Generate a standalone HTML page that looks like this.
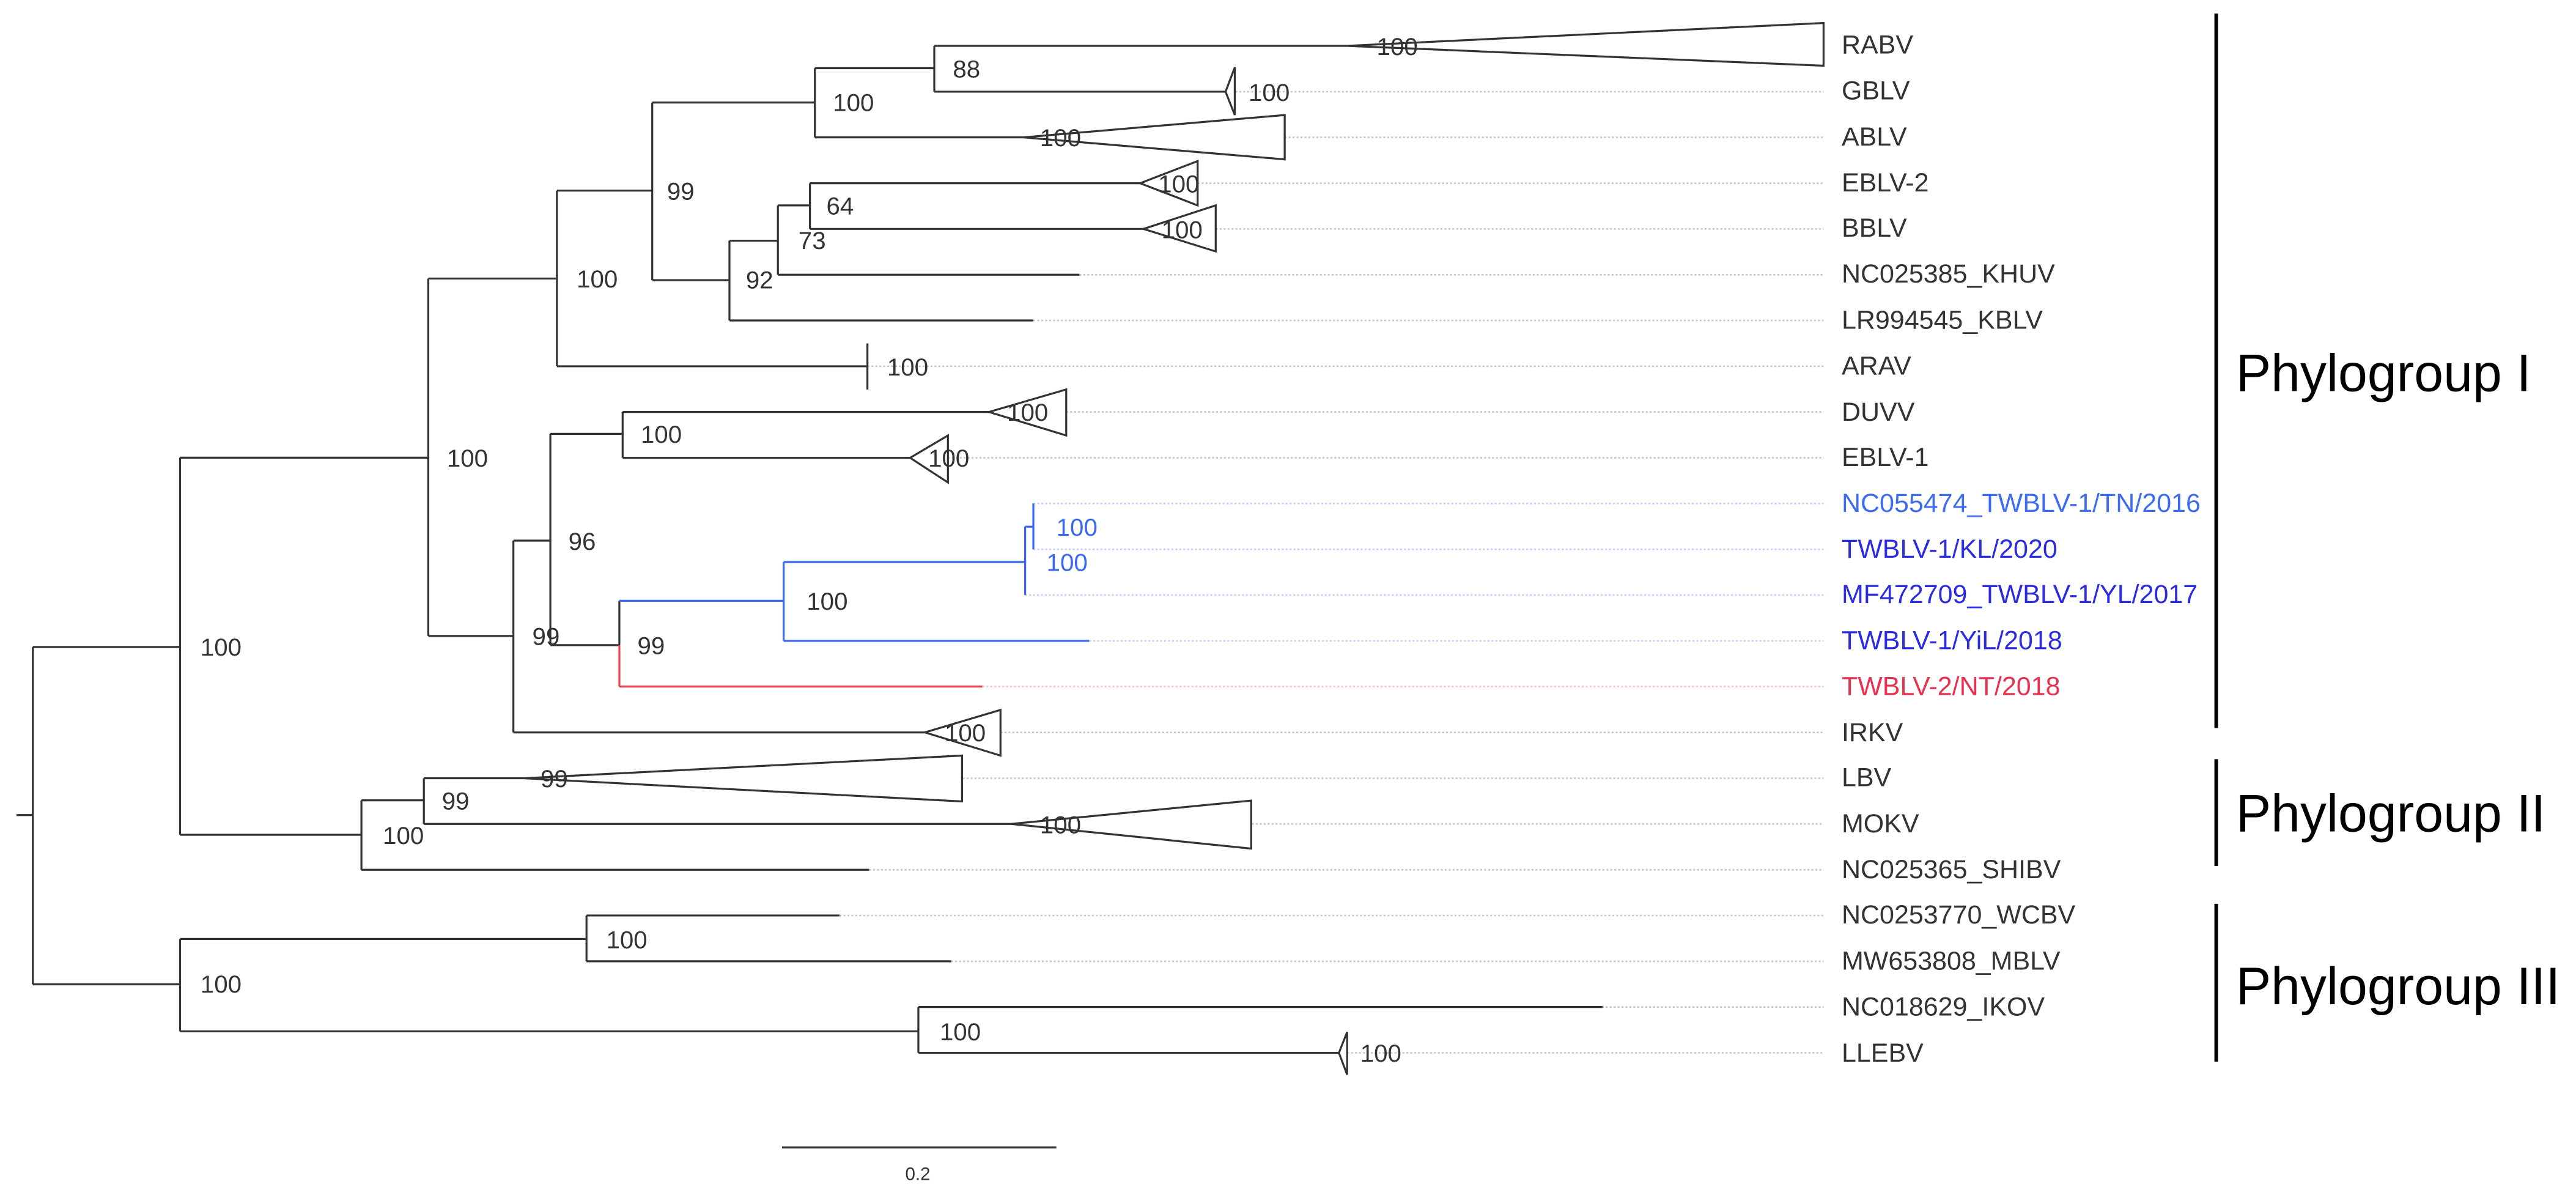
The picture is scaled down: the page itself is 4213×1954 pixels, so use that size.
<!DOCTYPE html>
<html><head><meta charset="utf-8"><style>
html,body{margin:0;padding:0;background:#fff;}
svg{display:block;}
text{font-family:"Liberation Sans",Arial,sans-serif;}
</style></head><body>
<svg width="4213" height="1954" viewBox="0 0 1568 727.2" preserveAspectRatio="none" xmlns="http://www.w3.org/2000/svg">
<g stroke="#c8c8c8" stroke-width="1" stroke-dasharray="1.2,1.2" fill="none">
<line x1="752" y1="55.8" x2="1110" y2="55.8"/>
<line x1="782" y1="83.6" x2="1110" y2="83.6"/>
<line x1="729" y1="111.5" x2="1110" y2="111.5"/>
<line x1="740" y1="139.3" x2="1110" y2="139.3"/>
<line x1="657" y1="167.2" x2="1110" y2="167.2"/>
<line x1="629" y1="195" x2="1110" y2="195"/>
<line x1="528" y1="222.9" x2="1110" y2="222.9"/>
<line x1="649" y1="250.7" x2="1110" y2="250.7"/>
<line x1="577" y1="278.6" x2="1110" y2="278.6"/>
<line x1="609" y1="445.7" x2="1110" y2="445.7"/>
<line x1="586" y1="473.6" x2="1110" y2="473.6"/>
<line x1="762" y1="501.4" x2="1110" y2="501.4"/>
<line x1="529" y1="529.3" x2="1110" y2="529.3"/>
<line x1="511" y1="557.1" x2="1110" y2="557.1"/>
<line x1="579" y1="585" x2="1110" y2="585"/>
<line x1="975" y1="612.8" x2="1110" y2="612.8"/>
<line x1="820" y1="640.7" x2="1110" y2="640.7"/>
</g>
<g stroke="#c8d0f8" stroke-width="1" stroke-dasharray="1.2,1.2">
<line x1="629" y1="306.4" x2="1110" y2="306.4"/>
<line x1="629" y1="334.3" x2="1110" y2="334.3"/>
<line x1="624" y1="362.1" x2="1110" y2="362.1"/>
<line x1="663" y1="390" x2="1110" y2="390"/>
</g>
<g stroke="#f8c8d0" stroke-width="1" stroke-dasharray="1.2,1.2">
<line x1="598" y1="417.8" x2="1110" y2="417.8"/>
</g>
<g stroke="#333" stroke-width="1.2" fill="none">
<line x1="10" y1="496" x2="20" y2="496"/>
<line x1="20" y1="393.7" x2="20" y2="599"/>
<line x1="20" y1="393.7" x2="109.6" y2="393.7"/>
<line x1="20" y1="599" x2="109.6" y2="599"/>
<line x1="109.6" y1="278.5" x2="109.6" y2="508"/>
<line x1="109.6" y1="278.5" x2="260.7" y2="278.5"/>
<line x1="109.6" y1="508" x2="220" y2="508"/>
<line x1="260.7" y1="169.5" x2="260.7" y2="387"/>
<line x1="260.7" y1="169.5" x2="339" y2="169.5"/>
<line x1="260.7" y1="387" x2="312.5" y2="387"/>
<line x1="339" y1="116" x2="339" y2="222.9"/>
<line x1="339" y1="116" x2="397" y2="116"/>
<line x1="339" y1="222.9" x2="528" y2="222.9"/>
<line x1="528" y1="209" x2="528" y2="237"/>
<line x1="397" y1="62.4" x2="397" y2="170.5"/>
<line x1="397" y1="62.4" x2="496" y2="62.4"/>
<line x1="397" y1="170.5" x2="444" y2="170.5"/>
<line x1="496" y1="41.5" x2="496" y2="83.6"/>
<line x1="496" y1="41.5" x2="568.7" y2="41.5"/>
<line x1="496" y1="83.6" x2="623" y2="83.6"/>
<line x1="568.7" y1="27.9" x2="568.7" y2="55.8"/>
<line x1="568.7" y1="27.9" x2="820" y2="27.9"/>
<line x1="568.7" y1="55.8" x2="746" y2="55.8"/>
<line x1="444" y1="146.5" x2="444" y2="195"/>
<line x1="444" y1="146.5" x2="473.5" y2="146.5"/>
<line x1="444" y1="195" x2="629" y2="195"/>
<line x1="473.5" y1="125" x2="473.5" y2="167.2"/>
<line x1="473.5" y1="125" x2="493" y2="125"/>
<line x1="473.5" y1="167.2" x2="657" y2="167.2"/>
<line x1="493" y1="111.5" x2="493" y2="139.3"/>
<line x1="493" y1="111.5" x2="694" y2="111.5"/>
<line x1="493" y1="139.3" x2="696" y2="139.3"/>
<line x1="312.5" y1="329" x2="312.5" y2="445.7"/>
<line x1="312.5" y1="329" x2="335" y2="329"/>
<line x1="312.5" y1="445.7" x2="563" y2="445.7"/>
<line x1="335" y1="264" x2="335" y2="392.6"/>
<line x1="335" y1="264" x2="379" y2="264"/>
<line x1="335" y1="392.6" x2="377" y2="392.6"/>
<line x1="379" y1="250.7" x2="379" y2="278.6"/>
<line x1="379" y1="250.7" x2="602" y2="250.7"/>
<line x1="379" y1="278.6" x2="554" y2="278.6"/>
<line x1="377" y1="365.6" x2="377" y2="392.6"/>
<line x1="220" y1="487" x2="220" y2="529.3"/>
<line x1="220" y1="487" x2="258" y2="487"/>
<line x1="220" y1="529.3" x2="529" y2="529.3"/>
<line x1="258" y1="473.6" x2="258" y2="501.4"/>
<line x1="258" y1="473.6" x2="319" y2="473.6"/>
<line x1="258" y1="501.4" x2="615.5" y2="501.4"/>
<line x1="109.6" y1="571.4" x2="109.6" y2="627.6"/>
<line x1="109.6" y1="571.4" x2="357" y2="571.4"/>
<line x1="109.6" y1="627.6" x2="559" y2="627.6"/>
<line x1="357" y1="557.1" x2="357" y2="585"/>
<line x1="357" y1="557.1" x2="511" y2="557.1"/>
<line x1="357" y1="585" x2="579" y2="585"/>
<line x1="559" y1="612.8" x2="559" y2="640.7"/>
<line x1="559" y1="612.8" x2="975.5" y2="612.8"/>
<line x1="559" y1="640.7" x2="815" y2="640.7"/>
<line x1="476" y1="698.2" x2="643" y2="698.2"/>
<polygon points="820,27.9 1110,14 1110,40"/>
<polygon points="746,55.8 751.6,41 751.6,70"/>
<polygon points="623,83.6 782,70 782,97"/>
<polygon points="694,111.5 729,98 729,125"/>
<polygon points="696,139.3 740,125 740,153"/>
<polygon points="602,250.7 649,237 649,265"/>
<polygon points="554,278.6 577,265 577,293.6"/>
<polygon points="563,445.7 609,432 609,459.8"/>
<polygon points="319,473.6 585.6,459.8 585.6,487.7"/>
<polygon points="615.5,501.4 761.6,487.2 761.6,516.4"/>
<polygon points="815,640.7 820,628 820,654"/>
</g>
<g stroke="#3a66f0" stroke-width="1.2" fill="none">
<line x1="477" y1="342" x2="477" y2="390"/>
<line x1="377" y1="365.6" x2="477" y2="365.6"/>
<line x1="477" y1="342" x2="624" y2="342"/>
<line x1="477" y1="390" x2="663" y2="390"/>
<line x1="624" y1="320.5" x2="624" y2="362.1"/>
<line x1="624" y1="320.5" x2="629" y2="320.5"/>
<line x1="629" y1="306.4" x2="629" y2="334.3"/>
</g>
<line x1="377" y1="392.6" x2="377" y2="417.8" stroke="#f04050" stroke-width="1.2"/>
<line x1="377" y1="417.8" x2="598" y2="417.8" stroke="#f04050" stroke-width="1.2"/>
<g stroke="#000" stroke-width="2.2">
<line x1="1349" y1="8.3" x2="1349" y2="443"/>
<line x1="1349" y1="462" x2="1349" y2="527"/>
<line x1="1349" y1="550" x2="1349" y2="646"/>
</g>
<g font-size="15" fill="#333">
<text x="580" y="47">88</text>
<text x="760" y="61.5">100</text>
<text x="507" y="67.5">100</text>
<text x="633" y="89">100</text>
<text x="406" y="121.5">99</text>
<text x="503" y="130.5">64</text>
<text x="486" y="151.5">73</text>
<text x="454" y="175.5">92</text>
<text x="351" y="175">100</text>
<text x="540" y="228.5">100</text>
<text x="272" y="284">100</text>
<text x="390" y="269.5">100</text>
<text x="346" y="334.5">96</text>
<text x="491" y="371">100</text>
<text x="388" y="398">99</text>
<text x="324" y="392.5">99</text>
<text x="122" y="399">100</text>
<text x="269" y="492.5">99</text>
<text x="233" y="513.5">100</text>
<text x="369" y="577">100</text>
<text x="122" y="604">100</text>
<text x="572" y="633">100</text>
<text x="838" y="33.5">100</text>
<text x="705" y="117">100</text>
<text x="707" y="145">100</text>
<text x="613" y="256">100</text>
<text x="565" y="284">100</text>
<text x="575" y="451">100</text>
<text x="329" y="479">99</text>
<text x="633" y="507">100</text>
<text x="828" y="646">100</text>
<text x="551" y="718" font-size="11">0.2</text>
</g>
<g font-size="15" fill="#3a66f0">
<text x="643" y="326">100</text>
<text x="637" y="347.5">100</text>
</g>
<g font-size="16" fill="#333">
<text x="1121" y="32.5">RABV</text>
<text x="1121" y="60.5">GBLV</text>
<text x="1121" y="88.5">ABLV</text>
<text x="1121" y="116.5">EBLV-2</text>
<text x="1121" y="144">BBLV</text>
<text x="1121" y="172">NC025385_KHUV</text>
<text x="1121" y="200">LR994545_KBLV</text>
<text x="1121" y="228">ARAV</text>
<text x="1121" y="256">DUVV</text>
<text x="1121" y="283.5">EBLV-1</text>
<text x="1121" y="311.5" fill="#3d6cf0">NC055474_TWBLV-1/TN/2016</text>
<text x="1121" y="339.5" fill="#2b2be0">TWBLV-1/KL/2020</text>
<text x="1121" y="367" fill="#2b2be0">MF472709_TWBLV-1/YL/2017</text>
<text x="1121" y="395" fill="#2b2be0">TWBLV-1/YiL/2018</text>
<text x="1121" y="423" fill="#e8314f">TWBLV-2/NT/2018</text>
<text x="1121" y="451">IRKV</text>
<text x="1121" y="478.5">LBV</text>
<text x="1121" y="506.5">MOKV</text>
<text x="1121" y="534.5">NC025365_SHIBV</text>
<text x="1121" y="562">NC0253770_WCBV</text>
<text x="1121" y="590">MW653808_MBLV</text>
<text x="1121" y="618">NC018629_IKOV</text>
<text x="1121" y="646">LLEBV</text>
</g>
<g font-size="32" fill="#000">
<text x="1361" y="238">Phylogroup I</text>
<text x="1361" y="506">Phylogroup II</text>
<text x="1361" y="611">Phylogroup III</text>
</g>
</svg>
</body></html>
